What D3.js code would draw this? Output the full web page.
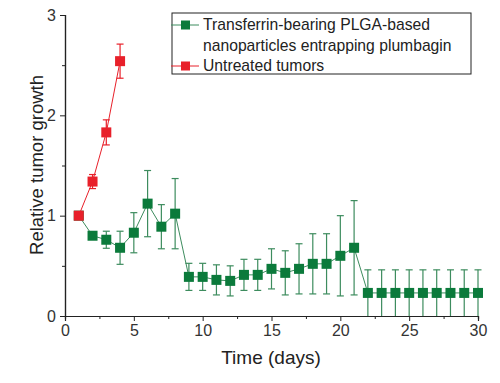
<!DOCTYPE html>
<html><head><meta charset="utf-8">
<script src="https://cdn.jsdelivr.net/npm/d3@7"></script>
<style>body{margin:0;background:#fff}svg{display:block}text{font-family:"Liberation Sans",Arial,sans-serif}</style>
</head><body>
<script>
const treatedDays = [1,2,3,4,5,6,7,8,9,10,11,12,13,14,15,16,17,18,19,20,21,22,23,24,25,26,27,28,29,30];
const treatedValues = [1.0,0.80,0.76,0.68,0.83,1.12,0.89,1.02,0.39,0.39,0.36,0.35,0.41,0.41,0.47,0.43,0.47,0.52,0.52,0.60,0.68,0.23,0.23,0.23,0.23,0.23,0.23,0.23,0.23,0.23];
const treatedErrors = [0.0,0.02,0.085,0.165,0.2,0.33,0.22,0.35,0.135,0.135,0.15,0.15,0.155,0.155,0.2,0.22,0.25,0.3,0.3,0.4,0.47,0.23,0.23,0.23,0.23,0.23,0.23,0.23,0.23,0.23];
const untreatedDays = [1,2,3,4];
const untreatedValues = [1.0,1.34,1.83,2.54];
const untreatedErrors = [0.0,0.07,0.125,0.17];
const xTicks = [0,5,10,15,20,25,30];
const yTicks = [0,1,2,3];
const seriesNames = ["Transferrin-bearing PLGA-based|nanoparticles entrapping plumbagin","Untreated tumors"];

const W=500,H=383;
const svg=d3.select("body").append("svg").attr("width",W).attr("height",H);
const x=d3.scaleLinear().domain([0,30]).range([65,478]);
const y=d3.scaleLinear().domain([0,3]).range([316,15]);
const green="#0b7a3b", greenLine="#3d8c5e", red="#e8202a", axisC="#222";

// axes
svg.append("g").attr("transform","translate(0,316)")
  .call(d3.axisBottom(x).tickValues(xTicks).tickSize(5).tickPadding(4).tickFormat(d3.format("d")));
svg.append("g").attr("transform","translate(0,316)")
  .call(d3.axisBottom(x).tickValues(d3.range(2.5,30,5)).tickSize(3).tickFormat(""));
svg.append("g").attr("transform","translate(65,0)")
  .call(d3.axisLeft(y).tickValues(yTicks).tickSize(5).tickPadding(4).tickFormat(d3.format("d")));
svg.append("g").attr("transform","translate(65,0)")
  .call(d3.axisLeft(y).tickValues([0.5,1.5,2.5]).tickSize(3).tickFormat(""));
svg.selectAll(".domain").attr("stroke",axisC).attr("stroke-width",1.2);
svg.selectAll(".tick line").attr("stroke",axisC);
svg.selectAll(".tick text").attr("fill","#333").style("font-size","16px").style("font-family","Liberation Sans, Arial, sans-serif");

svg.append("text").attr("x",271).attr("y",364).attr("text-anchor","middle")
  .style("font-size","19px").attr("fill","#222").text("Time (days)");
svg.append("text").attr("transform","translate(43,165) rotate(-90)").attr("text-anchor","middle")
  .style("font-size","18.5px").attr("fill","#222").text("Relative tumor growth");

const plot=svg.append("g");
function drawSeries(days,vals,errs,lineC,barC,markC){
  const pts=days.map((d,i)=>({d,v:vals[i],e:errs[i]}));
  plot.append("path").datum(pts).attr("fill","none").attr("stroke",lineC).attr("stroke-width",1)
    .attr("d",d3.line().x(p=>x(p.d)).y(p=>y(p.v)));
  const eb=plot.append("g").attr("stroke",barC).attr("stroke-width",1.2);
  pts.filter(p=>p.e>0).forEach(p=>{
    const lo=Math.max(0,p.v-p.e), hi=p.v+p.e;
    eb.append("line").attr("x1",x(p.d)).attr("x2",x(p.d)).attr("y1",y(lo)).attr("y2",y(hi));
    eb.append("line").attr("x1",x(p.d)-3.5).attr("x2",x(p.d)+3.5).attr("y1",y(hi)).attr("y2",y(hi));
    if(p.v-p.e>0.001) eb.append("line").attr("x1",x(p.d)-3.5).attr("x2",x(p.d)+3.5).attr("y1",y(lo)).attr("y2",y(lo));
  });
  plot.append("g").selectAll("rect").data(pts).join("rect")
    .attr("x",p=>x(p.d)-5).attr("y",p=>y(p.v)-5).attr("width",10).attr("height",10).attr("fill",markC);
}
drawSeries(treatedDays,treatedValues,treatedErrors,greenLine,greenLine,green);
drawSeries(untreatedDays,untreatedValues,untreatedErrors,red,red,red);

// legend
const lg=svg.append("g");
lg.append("rect").attr("x",172).attr("y",13).attr("width",299).attr("height",61)
  .attr("fill","#fff").attr("stroke","#222").attr("stroke-width",1);
const items=[{c:green,lc:greenLine,y:25},{c:red,lc:red,y:66}];
items.forEach((it,i)=>{
  lg.append("line").attr("x1",171).attr("x2",199).attr("y1",it.y).attr("y2",it.y).attr("stroke",it.lc).attr("stroke-width",1);
  lg.append("rect").attr("x",181).attr("y",it.y-4.5).attr("width",9).attr("height",9).attr("fill",it.c);
  const lines=seriesNames[i].split("|");
  lines.forEach((t,j)=>{
    lg.append("text").attr("x",203).attr("y",it.y+5+j*21).style("font-size","15.7px").attr("fill","#222").text(t);
  });
});
</script>
</body></html>
